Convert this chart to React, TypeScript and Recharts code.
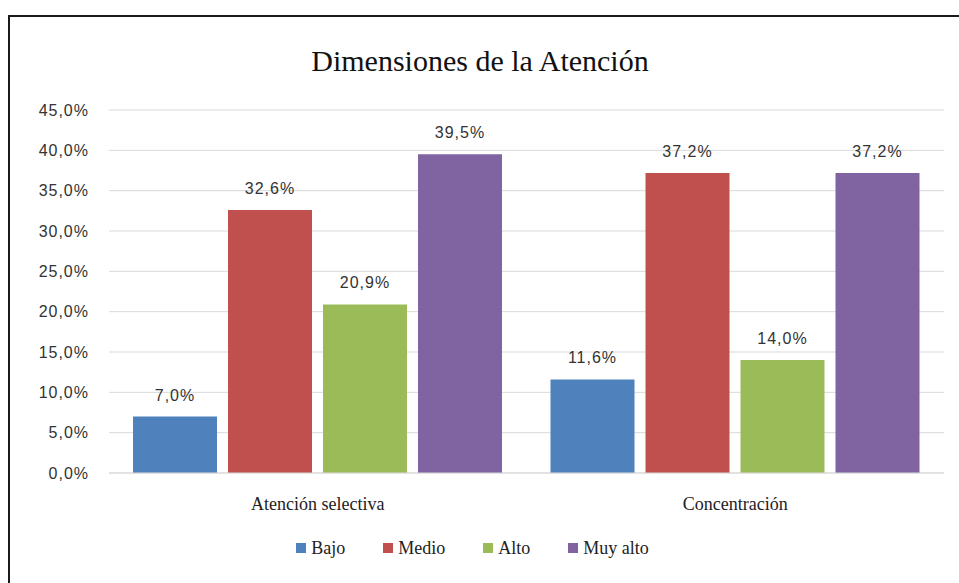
import { BarChart, Bar, XAxis, YAxis, CartesianGrid, Legend, LabelList } from 'recharts';

const categories = ['Atención selectiva', 'Concentración'];
const bajo = [7.0, 11.6];
const medio = [32.6, 37.2];
const alto = [20.9, 14.0];
const muyAlto = [39.5, 37.2];
const yTicks = [0, 5, 10, 15, 20, 25, 30, 35, 40, 45];

const SERIES = [
  { key: 'bajo', name: 'Bajo', color: '#4F81BD' },
  { key: 'medio', name: 'Medio', color: '#C0504D' },
  { key: 'alto', name: 'Alto', color: '#9BBB59' },
  { key: 'muyAlto', name: 'Muy alto', color: '#8064A2' },
];

const data = categories.map((name, i) => ({
  name,
  bajo: bajo[i],
  medio: medio[i],
  alto: alto[i],
  muyAlto: muyAlto[i],
}));

const pct = (v: number) => v.toFixed(1).replace('.', ',') + '%';

const serif = '"Liberation Serif", "DejaVu Serif", serif';
const sans = '"Liberation Sans", Arial, sans-serif';

if (typeof document !== 'undefined') {
  document.documentElement.style.overflow = 'hidden';
}

function LegendContent() {
  return (
    <div
      style={{
        display: 'flex',
        justifyContent: 'center',
        gap: 38,
        fontFamily: serif,
        fontSize: 18,
        color: '#222',
        height: 20,
        lineHeight: '20px',
        paddingRight: 24,
      }}
    >
      {SERIES.map((s) => (
        <span key={s.key} style={{ display: 'flex', alignItems: 'center' }}>
          <span style={{ width: 10, height: 10, background: s.color, display: 'inline-block', marginRight: 5 }} />
          {s.name}
        </span>
      ))}
    </div>
  );
}

export default function App() {
  return (
    <div
      style={{
        position: 'absolute',
        top: 15,
        left: 8,
        width: 980,
        height: 590,
        boxSizing: 'border-box',
        borderLeft: '2px solid #1a1a1a',
        borderTop: '2px solid #1a1a1a',
        background: '#fff',
        overflow: 'hidden',
      }}
    >
      <div
        style={{
          position: 'absolute',
          top: 27,
          left: 0,
          width: 940,
          textAlign: 'center',
          fontFamily: serif,
          fontSize: 30,
          color: '#111',
        }}
      >
        Dimensiones de la Atención
      </div>
      <BarChart
        width={949}
        height={566}
        data={data}
        margin={{ top: 93, right: 15, bottom: 50, left: 0 }}
        barSize={84}
        barGap={11}
      >
        <CartesianGrid vertical={false} stroke="#d9d9d9" />
        <XAxis
          dataKey="name"
          tickLine={false}
          axisLine={{ stroke: '#d9d9d9' }}
          tickSize={0}
          tickMargin={24}
          height={40}
          tick={{ fontFamily: serif, fontSize: 18, fill: '#222' }}
        />
        <YAxis
          width={99}
          domain={[0, 45]}
          ticks={yTicks}
          tickFormatter={pct}
          axisLine={false}
          tickLine={false}
          tickSize={0}
          tickMargin={20}
          tick={{ fontFamily: sans, fontSize: 16, fill: '#333', letterSpacing: 1 }}
        />
        <Legend
          verticalAlign="bottom"
          height={20}
          content={<LegendContent />}
          wrapperStyle={{ top: 521, left: 0, width: 949 }}
        />
        {SERIES.map((s) => (
          <Bar key={s.key} dataKey={s.key} name={s.name} fill={s.color} isAnimationActive={false}>
            <LabelList
              dataKey={s.key}
              position="top"
              offset={16}
              formatter={(v: any) => pct(Number(v))}
              style={{ fontFamily: sans, fontSize: 16, fill: '#333', letterSpacing: 1 }}
            />
          </Bar>
        ))}
      </BarChart>
    </div>
  );
}
